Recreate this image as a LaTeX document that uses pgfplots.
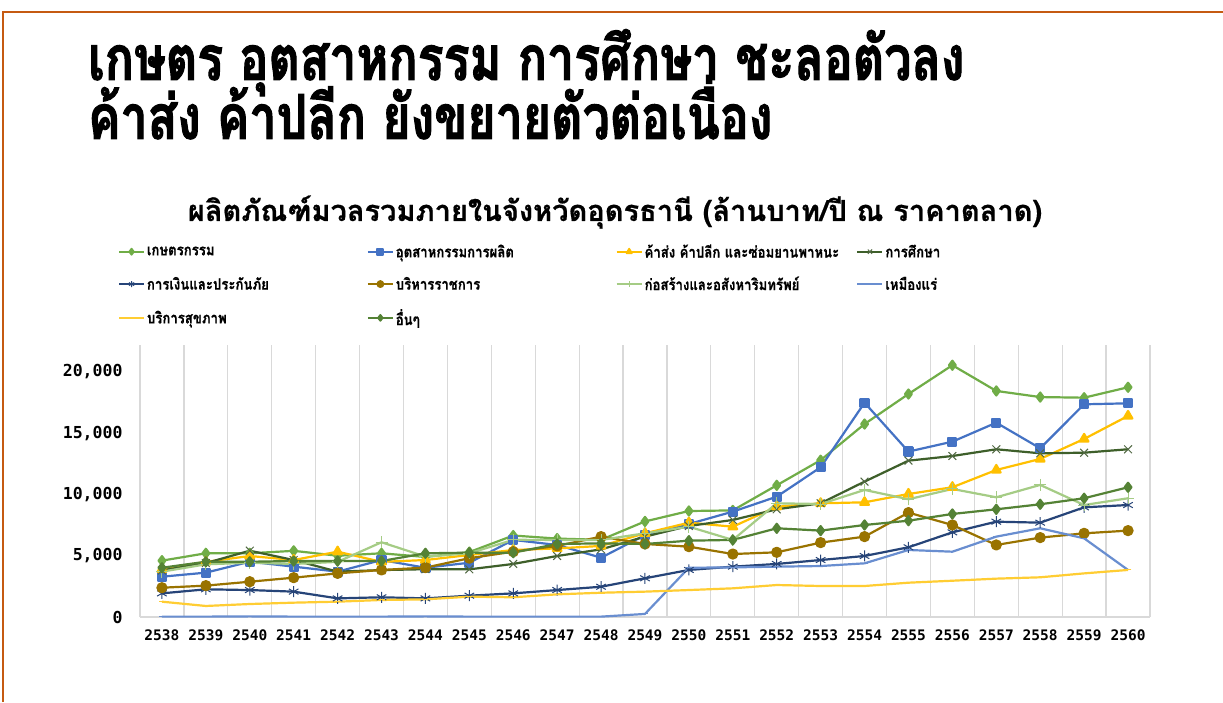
\documentclass[border=0pt]{standalone}
\usepackage{fontspec}
\usepackage{pgfplots}
\usepackage{pgfplotstable}
\pgfplotsset{compat=1.18}
\setmainfont{DejaVu Sans}
\newfontfamily\thaititle[Script=Thai, FakeStretch=0.78, FakeBold=1.6]{Loma}
\newfontfamily\thaifont[Script=Thai, FakeBold=0.6]{Loma}
\newfontfamily\legfont[Script=Thai, FakeStretch=0.85, FakeBold=0.5]{Loma}
\newfontfamily\tickfont{DejaVu Sans Mono}
\definecolor{cagri}{HTML}{70AD47}
\definecolor{cind}{HTML}{4472C4}
\definecolor{ctrade}{HTML}{FFC000}
\definecolor{cedu}{HTML}{3E5F2A}
\definecolor{cfin}{HTML}{264478}
\definecolor{cadm}{HTML}{997300}
\definecolor{ccon}{HTML}{A5CC85}
\definecolor{cmin}{HTML}{698ED0}
\definecolor{chea}{HTML}{FFCD33}
\definecolor{coth}{HTML}{548235}
\definecolor{cframe}{HTML}{C55A11}
\definecolor{cgrid}{HTML}{D9D9D9}

\pgfplotstableread{
x agri ind trade edu fin adm con min hea oth
0 4600 3290 3900 3800 1930 2390 3700 30 1250 4020
1 5200 3620 4500 4400 2260 2560 4300 30 900 4510
2 5200 4510 4980 5410 2200 2880 4430 50 1060 4510
3 5400 4110 4650 4650 2070 3210 4330 30 1170 4570
4 5000 3700 5330 3700 1520 3560 4500 30 1250 4570
5 5200 4650 4500 3830 1610 3840 6100 30 1390 4570
6 4900 4020 4650 3900 1520 4030 4930 50 1440 5200
7 5300 4430 5060 3890 1740 4800 5200 30 1660 5250
8 6650 6290 5470 4330 1930 5330 6300 30 1610 5250
9 6400 5880 5600 4980 2200 5800 6290 30 1850 5960
10 6300 4840 5800 5520 2470 6560 6290 30 1980 6010
11 7800 6690 6830 6560 3160 5960 6830 250 2070 5960
12 8650 7590 7700 7430 3840 5740 7370 4020 2200 6230
13 8700 8600 7370 7920 4110 5140 6290 4050 2340 6290
14 10750 9820 9000 8790 4330 5280 9280 4110 2610 7240
15 12800 12220 9280 9280 4650 6070 9220 4160 2530 7050
16 15750 17490 9360 11050 4980 6560 10370 4380 2530 7510
17 18200 13500 10040 12760 5690 8520 9610 5470 2800 7860
18 20550 14310 10590 13140 6910 7510 10450 5330 2960 8410
19 18450 15860 12000 13690 7780 5880 9770 6560 3130 8790
20 17950 13770 12900 13360 7700 6480 10780 7240 3240 9200
21 17900 17360 14530 13410 8950 6830 9140 6420 3560 9690
22 18750 17440 16410 13690 9140 7050 9690 3840 3840 10590
}\datatable

\begin{document}
\begin{tikzpicture}[x=1pt,y=1pt]
\useasboundingbox (0,0) rectangle (1223,702);
\fill[white] (0,0) rectangle (1223,702);
\draw[cframe, line width=2pt] (3,0) -- (3,690) -- (1223,690);
\node[anchor=base west, inner sep=0pt, font=\thaititle\bfseries\fontsize{62}{70}\selectfont] at (88,622) {เกษตร อุตสาหกรรม การศึกษา ชะลอตัวลง};
\node[anchor=base west, inner sep=0pt, font=\thaititle\bfseries\fontsize{62}{70}\selectfont] at (88,563) {ค้าส่ง ค้าปลีก ยังขยายตัวต่อเนื่อง};
\node[anchor=base, inner sep=0pt, font=\thaifont\bfseries\fontsize{29}{32}\selectfont] at (615,481) {ผลิตภัณฑ์มวลรวมภายในจังหวัดอุดรธานี (ล้านบาท/ปี ณ ราคาตลาด)};
\begin{axis}[
  at={(140pt,85pt)}, anchor=south west,
  scale only axis, width=1010pt, height=272pt,
  xmin=-0.5, xmax=22.5, ymin=0, ymax=22200,
  xtick={0,...,22},
  xticklabels={2538,2539,2540,2541,2542,2543,2544,2545,2546,2547,2548,2549,2550,2551,2552,2553,2554,2555,2556,2557,2558,2559,2560},
  minor xtick={-0.5,0.5,...,22.5},
  xminorgrids, minor grid style={cgrid, line width=1.2pt},
  ytick={0,5000,10000,15000,20000},
  scaled y ticks=false,
  major tick length=0pt, minor tick length=0pt,
  separate axis lines,
  axis x line*=bottom, axis y line*=left,
  x axis line style={cgrid, line width=1.2pt, -},
  y axis line style={draw=none},
  /pgf/number format/assume math mode=true,
  /pgf/number format/1000 sep={,},
  yticklabel style={font=\tickfont\bfseries\fontsize{16.5}{17}\selectfont, xshift=-14pt},
  xticklabel style={font=\tickfont\bfseries\fontsize{14.5}{15}\selectfont, yshift=-9pt},
  legend columns=4,
  legend cell align=left,
  legend style={at={(-0.0218,1.378)}, anchor=north west, draw=none, fill=none,
    font=\legfont\bfseries\fontsize{15.5}{17}\selectfont,
    row sep=13.5pt, column sep=0pt, inner sep=0pt},
  legend image code/.code={\draw[mark repeat=2, mark phase=2, #1, line width=1.8pt, mark size=3pt] plot coordinates {(0pt,0pt) (12.5pt,0pt) (25pt,0pt)};},
  every axis plot/.append style={line width=2.2pt, line join=round},
]
\addplot[cagri, mark=diamond*, mark size=4.5pt, mark options={solid}] table[x=x,y=agri]{\datatable};
\addlegendentry{\makebox[218pt][l]{เกษตรกรรม}}
\addplot[cind, mark=square*, mark size=4pt] table[x=x,y=ind]{\datatable};
\addlegendentry{\makebox[218pt][l]{อุตสาหกรรมการผลิต}}
\addplot[ctrade, mark=triangle*, mark size=5pt] table[x=x,y=trade]{\datatable};
\addlegendentry{\makebox[196pt][l]{ค้าส่ง ค้าปลีก และซ่อมยานพาหนะ}}
\addplot[cedu, mark=x, mark size=5.5pt, mark options={line width=1pt, draw=cedu!70!gray}] table[x=x,y=edu]{\datatable};
\addlegendentry{การศึกษา}
\addplot[cfin, mark=asterisk, mark size=5.5pt, mark options={line width=1pt}] table[x=x,y=fin]{\datatable};
\addlegendentry{\makebox[218pt][l]{การเงินและประกันภัย}}
\addplot[cadm, mark=*, mark size=4.5pt] table[x=x,y=adm]{\datatable};
\addlegendentry{\makebox[218pt][l]{บริหารราชการ}}
\addplot[ccon, mark=+, mark size=6pt, mark options={line width=1pt}] table[x=x,y=con]{\datatable};
\addlegendentry{\makebox[210pt][l]{ก่อสร้างและอสังหาริมทรัพย์}}
\addplot[cmin, mark=-, mark size=3pt, mark options={line width=1pt}] table[x=x,y=min]{\datatable};
\addlegendentry{เหมืองแร่}
\addplot[chea, mark=-, mark size=3pt, mark options={line width=1pt}] table[x=x,y=hea]{\datatable};
\addlegendentry{\makebox[218pt][l]{บริการสุขภาพ}}
\addplot[coth, mark=diamond*, mark size=4.5pt] table[x=x,y=oth]{\datatable};
\addlegendentry{\makebox[218pt][l]{อื่นๆ}}
\end{axis}
\end{tikzpicture}
\end{document}
